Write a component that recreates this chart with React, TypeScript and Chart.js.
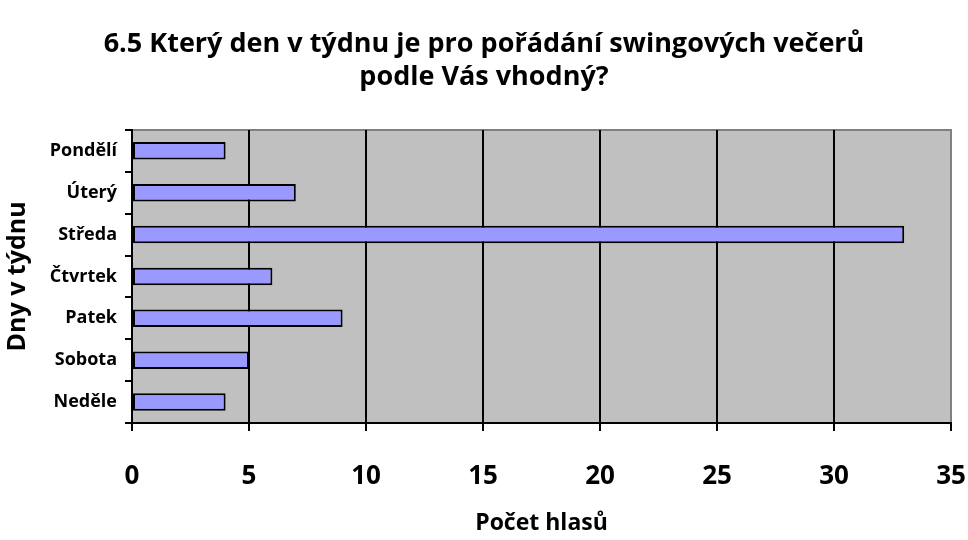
import React, { useEffect, useRef } from "react";
import { Chart, registerables } from "chart.js";

Chart.register(...registerables);

const titleLines = ["6.5 Který den v týdnu je pro pořádání swingových večerů", "podle Vás vhodný?"];
const categories = ["Pondělí", "Úterý", "Středa", "Čtvrtek", "Patek", "Sobota", "Neděle"];
const votes = [4, 7, 33, 6, 9, 5, 4];
const xTitle = "Počet hlasů";
const yTitle = "Dny v týdnu";
const xMin = 0;
const xMax = 35;
const xStep = 5;

const FONT = "'Open Sans', Lato, sans-serif";

const plotBg = {
  id: "plotBg",
  beforeDraw(chart: any) {
    const { ctx, chartArea } = chart;
    if (!chartArea) return;
    ctx.save();
    ctx.fillStyle = "#C0C0C0";
    ctx.fillRect(chartArea.left, chartArea.top, chartArea.right - chartArea.left, chartArea.bottom - chartArea.top);
    ctx.strokeStyle = "#808080";
    ctx.lineWidth = 2;
    ctx.beginPath();
    ctx.moveTo(chartArea.left, chartArea.top);
    ctx.lineTo(chartArea.right, chartArea.top);
    ctx.lineTo(chartArea.right, chartArea.bottom);
    ctx.stroke();
    ctx.restore();
  },
};

export default function App() {
  const ref = useRef<HTMLCanvasElement | null>(null);
  useEffect(() => {
    if (!ref.current) return;
    const chart = new Chart(ref.current, {
      type: "bar",
      data: {
        labels: categories,
        datasets: [
          {
            data: votes,
            backgroundColor: "#9999FF",
            borderColor: "#000000",
            borderWidth: 2,
            borderSkipped: false,
            categoryPercentage: 1,
            barPercentage: 0.42,
          },
        ],
      },
      options: {
        indexAxis: "y",
        responsive: false,
        animation: false,
        layout: { padding: { left: 0, right: 0, top: 0, bottom: 0 } },
        plugins: {
          legend: { display: false },
          tooltip: { enabled: false },
          title: {
            display: true,
            text: titleLines,
            color: "#000",
            font: { family: FONT, size: 27, weight: "bold", lineHeight: 1.22 },
            padding: { top: 28, bottom: 36 },
          },
        },
        scales: {
          x: {
            type: "linear",
            min: xMin,
            max: xMax,
            ticks: {
              stepSize: xStep,
              color: "#000",
              padding: 30,
              font: { family: FONT, size: 26, weight: "bold" },
            },
            grid: {
              color: (c: any) => (c.tick && c.tick.value === xMax ? "rgba(0,0,0,0)" : "#000"),
              tickColor: "#000",
              lineWidth: 2,
              tickLength: 8,
            },
            border: { display: true, color: "#000", width: 2 },
            title: {
              display: true,
              text: xTitle,
              color: "#000",
              font: { family: FONT, size: 23, weight: "bold" },
              padding: { top: 0, bottom: 3 },
            },
            afterFit: (s: any) => {
              s.height = 117;
              s.paddingRight = 17;
            },
          },
          y: {
            ticks: {
              color: "#000",
              padding: 8,
              font: { family: FONT, size: 18, weight: "bold" },
            },
            grid: {
              drawOnChartArea: false,
              drawTicks: true,
              tickLength: 7,
              color: "#000",
              lineWidth: 2,
            },
            border: { display: true, color: "#000", width: 2 },
            title: {
              display: true,
              text: yTitle,
              color: "#000",
              font: { family: FONT, size: 25, weight: "bold" },
              padding: { top: 3, bottom: 0 },
            },
            afterFit: (s: any) => {
              s.width = 132;
            },
          },
        },
      },
      plugins: [plotBg],
    } as any);
    return () => chart.destroy();
  }, []);
  return (
    <div style={{ position: "absolute", left: 0, top: 0, width: 968, height: 540, background: "#fff" }}>
      <canvas ref={ref} width={968} height={540} style={{ display: "block" }} />
    </div>
  );
}
